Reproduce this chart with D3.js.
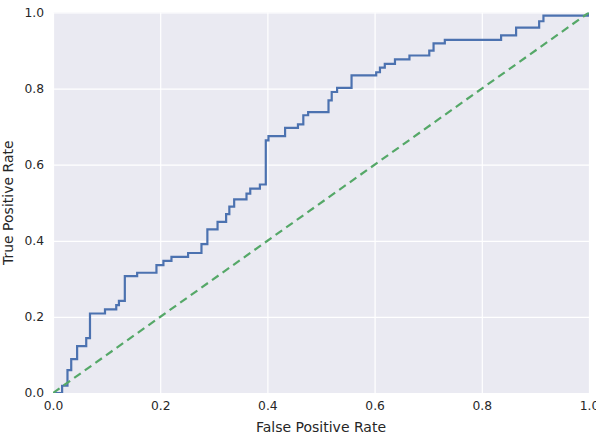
<!DOCTYPE html>
<html>
<head>
<meta charset="utf-8">
<script src="https://cdn.jsdelivr.net/npm/d3@7"></script>
<style>
  html, body { margin: 0; padding: 0; background: #ffffff; }
  svg { display: block; }
</style>
</head>
<body>
<svg id="chart" width="596" height="436"></svg>
<script>
// ROC curve corner points (top of each vertical step)
const fpr = [0, 0.017, 0.027, 0.034, 0.045, 0.062, 0.069, 0.097, 0.118, 0.123, 0.134,
  0.157, 0.193, 0.206, 0.221, 0.252, 0.277, 0.288, 0.307, 0.323, 0.329, 0.338,
  0.361, 0.368, 0.386, 0.397, 0.402, 0.433, 0.457, 0.467, 0.476, 0.514, 0.520,
  0.530, 0.557, 0.603, 0.610, 0.619, 0.638, 0.665, 0.702, 0.710, 0.731, 0.836,
  0.864, 0.907, 0.915, 0.999];
const tpr = [0, 0.019, 0.060, 0.089, 0.123, 0.144, 0.209, 0.220, 0.231, 0.242, 0.307,
  0.316, 0.336, 0.347, 0.358, 0.368, 0.391, 0.430, 0.450, 0.470, 0.490, 0.509,
  0.524, 0.537, 0.548, 0.664, 0.675, 0.697, 0.706, 0.730, 0.738, 0.769, 0.791,
  0.802, 0.835, 0.843, 0.855, 0.865, 0.877, 0.887, 0.900, 0.919, 0.928, 0.940,
  0.960, 0.977, 0.992, 1.0];
const chanceX = [0, 1];
const chanceY = [0, 1];
const xTicks = [0.0, 0.2, 0.4, 0.6, 0.8, 1.0];
const yTicks = [0.0, 0.2, 0.4, 0.6, 0.8, 1.0];
const xLabel = "False Positive Rate";
const yLabel = "True Positive Rate";

(function () {
const svg = d3.select("#chart");
const pLeft = 53, pRight = 589, pTop = 12.5, pBottom = 393;
const x = d3.scaleLinear().domain([0, 1]).range([pLeft, pRight]);
const y = d3.scaleLinear().domain([0, 1]).range([pBottom, pTop]);
const font = "'DejaVu Sans', sans-serif";
const textColor = "#262626";

svg.append("defs").append("clipPath").attr("id", "clip")
  .append("rect").attr("x", pLeft).attr("y", pTop)
  .attr("width", pRight - pLeft).attr("height", pBottom - pTop);

svg.append("rect").attr("x", pLeft).attr("y", pTop)
  .attr("width", pRight - pLeft).attr("height", pBottom - pTop)
  .attr("fill", "#EAEAF2");

const gx = svg.append("g").attr("transform", `translate(0,${pBottom})`)
  .call(d3.axisBottom(x).tickValues(xTicks).tickSize(-(pBottom - pTop)).tickFormat(d3.format(".1f")).tickPadding(8));
const gy = svg.append("g").attr("transform", `translate(${pLeft},0)`)
  .call(d3.axisLeft(y).tickValues(yTicks).tickSize(-(pRight - pLeft)).tickFormat(d3.format(".1f")).tickPadding(9));
[gx, gy].forEach(g => {
  g.select(".domain").remove();
  g.selectAll(".tick line").attr("stroke", "#ffffff").attr("stroke-width", 1.2);
  g.selectAll(".tick text").attr("fill", textColor).attr("font-family", font).attr("font-size", 12.3);
});

const plot = svg.append("g").attr("clip-path", "url(#clip)");
const pts = fpr.map((f, i) => [f, tpr[i]]);
plot.append("path").datum(pts)
  .attr("d", d3.line().x(d => x(d[0])).y(d => y(d[1])).curve(d3.curveStepAfter))
  .attr("fill", "none").attr("stroke", "#4C72B0").attr("stroke-width", 2.2);

const chance = chanceX.map((v, i) => [v, chanceY[i]]);
plot.append("path").datum(chance)
  .attr("d", d3.line().x(d => x(d[0])).y(d => y(d[1])))
  .attr("fill", "none").attr("stroke", "#55A868").attr("stroke-width", 2.2)
  .attr("stroke-dasharray", "8,5");

svg.append("text").attr("x", (pLeft + pRight) / 2).attr("y", 432)
  .attr("text-anchor", "middle").attr("font-family", font).attr("font-size", 14)
  .attr("fill", textColor).text(xLabel);
svg.append("text").attr("transform", `translate(13,${(pTop + pBottom) / 2}) rotate(-90)`)
  .attr("text-anchor", "middle").attr("font-family", font).attr("font-size", 14)
  .attr("fill", textColor).text(yLabel);
})();
</script>
</body>
</html>
